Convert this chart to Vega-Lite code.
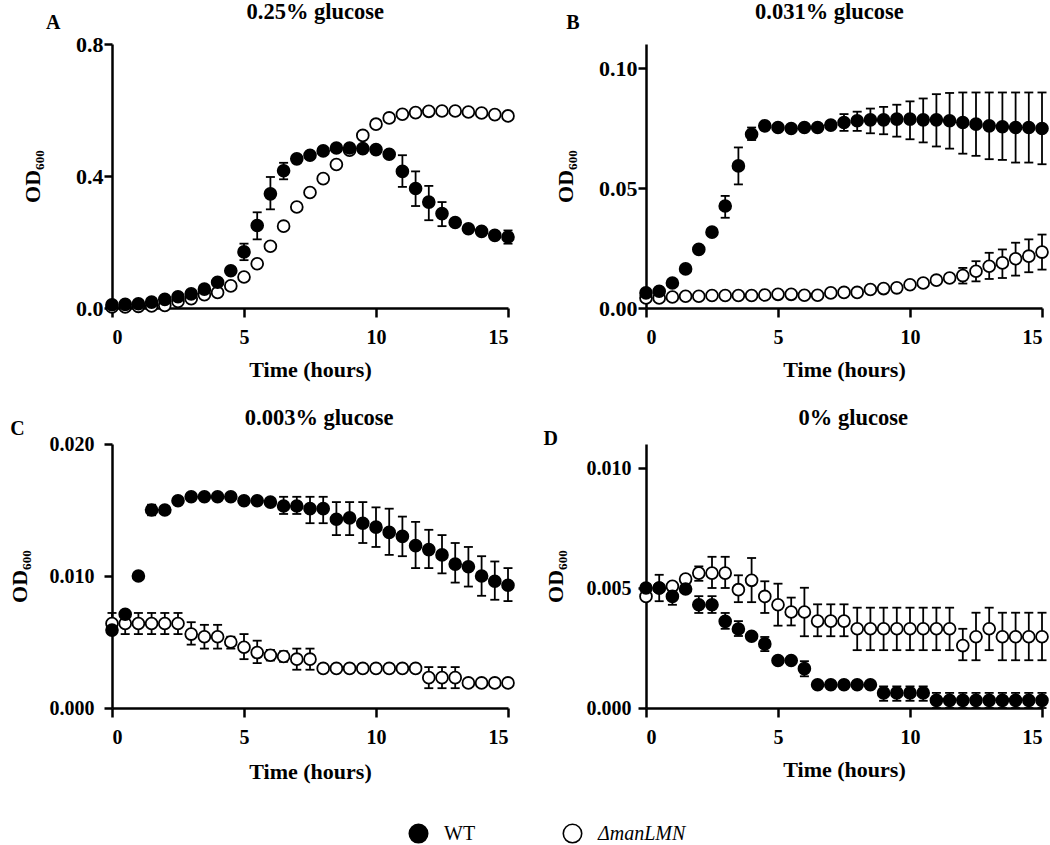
{
"$schema":"https://vega.github.io/schema/vega-lite/v6.json",
"padding":{"left":8,"top":0,"right":5,"bottom":0},
"config":{"view":{"stroke":null},"font":"Liberation Serif",
"axis":{"grid":false,"domainColor":"black","domainWidth":2.5,"tickColor":"black","tickWidth":2.5,"labelFont":"Liberation Serif","labelFontWeight":"bold","labelFontSize":20,"labelColor":"black","titleFont":"Liberation Serif","titleFontWeight":"bold","titleFontSize":22,"titleColor":"black"},
"axisX":{"tickSize":9,"labelPadding":26,"labelBaseline":"alphabetic","labelAngle":0,"titleBaseline":"alphabetic","minExtent":30,"maxExtent":30,"titlePadding":38},
"axisY":{"tickSize":8,"titleBaseline":"alphabetic","minExtent":40,"maxExtent":40},
"legend":{"labelFont":"Liberation Serif","labelFontStyle":{"expr":"datum.value === 'ΔmanLMN' ? 'italic' : 'normal'"}},
"text":{"font":"Liberation Serif","fontWeight":"bold","color":"black","align":"center","baseline":"alphabetic"}},
"datasets":{"growth":[
{"p":"A","s":"ΔmanLMN","t":0,"v":0.003},{"p":"A","s":"ΔmanLMN","t":0.5,"v":0.003},{"p":"A","s":"ΔmanLMN","t":1,"v":0.005},{"p":"A","s":"ΔmanLMN","t":1.5,"v":0.006},{"p":"A","s":"ΔmanLMN","t":2,"v":0.008},{"p":"A","s":"ΔmanLMN","t":2.5,"v":0.02},{"p":"A","s":"ΔmanLMN","t":3,"v":0.028},{"p":"A","s":"ΔmanLMN","t":3.5,"v":0.04},{"p":"A","s":"ΔmanLMN","t":4,"v":0.047},{"p":"A","s":"ΔmanLMN","t":4.5,"v":0.067},{"p":"A","s":"ΔmanLMN","t":5,"v":0.094},{"p":"A","s":"ΔmanLMN","t":5.5,"v":0.134},{"p":"A","s":"ΔmanLMN","t":6,"v":0.187},{"p":"A","s":"ΔmanLMN","t":6.5,"v":0.248},{"p":"A","s":"ΔmanLMN","t":7,"v":0.306},{"p":"A","s":"ΔmanLMN","t":7.5,"v":0.35},{"p":"A","s":"ΔmanLMN","t":8,"v":0.392},{"p":"A","s":"ΔmanLMN","t":8.5,"v":0.435},{"p":"A","s":"ΔmanLMN","t":9,"v":0.478},{"p":"A","s":"ΔmanLMN","t":9.5,"v":0.523},{"p":"A","s":"ΔmanLMN","t":10,"v":0.557},{"p":"A","s":"ΔmanLMN","t":10.5,"v":0.576},{"p":"A","s":"ΔmanLMN","t":11,"v":0.587},{"p":"A","s":"ΔmanLMN","t":11.5,"v":0.592},{"p":"A","s":"ΔmanLMN","t":12,"v":0.596},{"p":"A","s":"ΔmanLMN","t":12.5,"v":0.597},{"p":"A","s":"ΔmanLMN","t":13,"v":0.597},{"p":"A","s":"ΔmanLMN","t":13.5,"v":0.594},{"p":"A","s":"ΔmanLMN","t":14,"v":0.591},{"p":"A","s":"ΔmanLMN","t":14.5,"v":0.586},{"p":"A","s":"ΔmanLMN","t":15,"v":0.582},
{"p":"B","s":"ΔmanLMN","t":0,"v":0.0042},{"p":"B","s":"ΔmanLMN","t":0.5,"v":0.0042},{"p":"B","s":"ΔmanLMN","t":1,"v":0.0046},{"p":"B","s":"ΔmanLMN","t":1.5,"v":0.0049},{"p":"B","s":"ΔmanLMN","t":2,"v":0.0049},{"p":"B","s":"ΔmanLMN","t":2.5,"v":0.0052},{"p":"B","s":"ΔmanLMN","t":3,"v":0.0052},{"p":"B","s":"ΔmanLMN","t":3.5,"v":0.0052},{"p":"B","s":"ΔmanLMN","t":4,"v":0.0052},{"p":"B","s":"ΔmanLMN","t":4.5,"v":0.0054},{"p":"B","s":"ΔmanLMN","t":5,"v":0.0057},{"p":"B","s":"ΔmanLMN","t":5.5,"v":0.0057},{"p":"B","s":"ΔmanLMN","t":6,"v":0.0053},{"p":"B","s":"ΔmanLMN","t":6.5,"v":0.0053},{"p":"B","s":"ΔmanLMN","t":7,"v":0.0063},{"p":"B","s":"ΔmanLMN","t":7.5,"v":0.0065},{"p":"B","s":"ΔmanLMN","t":8,"v":0.0065},{"p":"B","s":"ΔmanLMN","t":8.5,"v":0.0077},{"p":"B","s":"ΔmanLMN","t":9,"v":0.0081},{"p":"B","s":"ΔmanLMN","t":9.5,"v":0.0084},{"p":"B","s":"ΔmanLMN","t":10,"v":0.0097},{"p":"B","s":"ΔmanLMN","t":10.5,"v":0.0104},{"p":"B","s":"ΔmanLMN","t":11,"v":0.0116},{"p":"B","s":"ΔmanLMN","t":11.5,"v":0.0125},{"p":"B","s":"ΔmanLMN","t":12,"v":0.0135,"lo":0.0102,"hi":0.0167},{"p":"B","s":"ΔmanLMN","t":12.5,"v":0.0153,"lo":0.0111,"hi":0.0195},{"p":"B","s":"ΔmanLMN","t":13,"v":0.0174,"lo":0.0121,"hi":0.023},{"p":"B","s":"ΔmanLMN","t":13.5,"v":0.0188,"lo":0.0125,"hi":0.0244},{"p":"B","s":"ΔmanLMN","t":14,"v":0.0205,"lo":0.0135,"hi":0.0272},{"p":"B","s":"ΔmanLMN","t":14.5,"v":0.0216,"lo":0.0149,"hi":0.0286},{"p":"B","s":"ΔmanLMN","t":15,"v":0.0233,"lo":0.016,"hi":0.0306},
{"p":"C","s":"ΔmanLMN","t":0,"v":0.0064,"lo":0.0056,"hi":0.0072},{"p":"C","s":"ΔmanLMN","t":0.5,"v":0.0064,"lo":0.0056,"hi":0.0072},{"p":"C","s":"ΔmanLMN","t":1,"v":0.0064,"lo":0.0056,"hi":0.0072},{"p":"C","s":"ΔmanLMN","t":1.5,"v":0.0064,"lo":0.0056,"hi":0.0072},{"p":"C","s":"ΔmanLMN","t":2,"v":0.0064,"lo":0.0056,"hi":0.0072},{"p":"C","s":"ΔmanLMN","t":2.5,"v":0.0064,"lo":0.0056,"hi":0.0072},{"p":"C","s":"ΔmanLMN","t":3,"v":0.0056,"lo":0.0048,"hi":0.0065},{"p":"C","s":"ΔmanLMN","t":3.5,"v":0.0054,"lo":0.0045,"hi":0.0063},{"p":"C","s":"ΔmanLMN","t":4,"v":0.0054,"lo":0.0045,"hi":0.0063},{"p":"C","s":"ΔmanLMN","t":4.5,"v":0.005,"lo":0.0045,"hi":0.0054},{"p":"C","s":"ΔmanLMN","t":5,"v":0.0046,"lo":0.0037,"hi":0.0056},{"p":"C","s":"ΔmanLMN","t":5.5,"v":0.0042,"lo":0.0034,"hi":0.0051},{"p":"C","s":"ΔmanLMN","t":6,"v":0.004,"lo":0.0036,"hi":0.0044},{"p":"C","s":"ΔmanLMN","t":6.5,"v":0.0039,"lo":0.0035,"hi":0.0043},{"p":"C","s":"ΔmanLMN","t":7,"v":0.0037,"lo":0.0029,"hi":0.0045},{"p":"C","s":"ΔmanLMN","t":7.5,"v":0.0037,"lo":0.0029,"hi":0.0045},{"p":"C","s":"ΔmanLMN","t":8,"v":0.003,"lo":0.0027,"hi":0.0033},{"p":"C","s":"ΔmanLMN","t":8.5,"v":0.003,"lo":0.0027,"hi":0.0033},{"p":"C","s":"ΔmanLMN","t":9,"v":0.003,"lo":0.0027,"hi":0.0033},{"p":"C","s":"ΔmanLMN","t":9.5,"v":0.003,"lo":0.0027,"hi":0.0033},{"p":"C","s":"ΔmanLMN","t":10,"v":0.003,"lo":0.0027,"hi":0.0033},{"p":"C","s":"ΔmanLMN","t":10.5,"v":0.003,"lo":0.0027,"hi":0.0033},{"p":"C","s":"ΔmanLMN","t":11,"v":0.003,"lo":0.0027,"hi":0.0033},{"p":"C","s":"ΔmanLMN","t":11.5,"v":0.003,"lo":0.0027,"hi":0.0033},{"p":"C","s":"ΔmanLMN","t":12,"v":0.0023,"lo":0.0015,"hi":0.0031},{"p":"C","s":"ΔmanLMN","t":12.5,"v":0.0023,"lo":0.0015,"hi":0.0031},{"p":"C","s":"ΔmanLMN","t":13,"v":0.0023,"lo":0.0015,"hi":0.0031},{"p":"C","s":"ΔmanLMN","t":13.5,"v":0.0019},{"p":"C","s":"ΔmanLMN","t":14,"v":0.0019},{"p":"C","s":"ΔmanLMN","t":14.5,"v":0.0019},{"p":"C","s":"ΔmanLMN","t":15,"v":0.0019},
{"p":"D","s":"ΔmanLMN","t":0,"v":0.00465},{"p":"D","s":"ΔmanLMN","t":0.5,"v":0.005},{"p":"D","s":"ΔmanLMN","t":1,"v":0.00507},{"p":"D","s":"ΔmanLMN","t":1.5,"v":0.00537},{"p":"D","s":"ΔmanLMN","t":2,"v":0.00562,"lo":0.0053,"hi":0.0059},{"p":"D","s":"ΔmanLMN","t":2.5,"v":0.00562,"lo":0.005,"hi":0.0063},{"p":"D","s":"ΔmanLMN","t":3,"v":0.00562,"lo":0.005,"hi":0.0063},{"p":"D","s":"ΔmanLMN","t":3.5,"v":0.00493,"lo":0.00441,"hi":0.00553},{"p":"D","s":"ΔmanLMN","t":4,"v":0.00532,"lo":0.00441,"hi":0.00625},{"p":"D","s":"ΔmanLMN","t":4.5,"v":0.00465,"lo":0.00396,"hi":0.00528},{"p":"D","s":"ΔmanLMN","t":5,"v":0.0043,"lo":0.00343,"hi":0.00518},{"p":"D","s":"ΔmanLMN","t":5.5,"v":0.004,"lo":0.00344,"hi":0.0046},{"p":"D","s":"ΔmanLMN","t":6,"v":0.004,"lo":0.00299,"hi":0.00501},{"p":"D","s":"ΔmanLMN","t":6.5,"v":0.00362,"lo":0.00299,"hi":0.00432},{"p":"D","s":"ΔmanLMN","t":7,"v":0.00362,"lo":0.00299,"hi":0.00432},{"p":"D","s":"ΔmanLMN","t":7.5,"v":0.00362,"lo":0.00299,"hi":0.00432},{"p":"D","s":"ΔmanLMN","t":8,"v":0.0033,"lo":0.00241,"hi":0.00418},{"p":"D","s":"ΔmanLMN","t":8.5,"v":0.0033,"lo":0.00241,"hi":0.00418},{"p":"D","s":"ΔmanLMN","t":9,"v":0.0033,"lo":0.00241,"hi":0.00418},{"p":"D","s":"ΔmanLMN","t":9.5,"v":0.0033,"lo":0.00241,"hi":0.00418},{"p":"D","s":"ΔmanLMN","t":10,"v":0.0033,"lo":0.00241,"hi":0.00418},{"p":"D","s":"ΔmanLMN","t":10.5,"v":0.0033,"lo":0.00241,"hi":0.00418},{"p":"D","s":"ΔmanLMN","t":11,"v":0.0033,"lo":0.00241,"hi":0.00418},{"p":"D","s":"ΔmanLMN","t":11.5,"v":0.0033,"lo":0.00241,"hi":0.00418},{"p":"D","s":"ΔmanLMN","t":12,"v":0.0026,"lo":0.00199,"hi":0.0033},{"p":"D","s":"ΔmanLMN","t":12.5,"v":0.00297,"lo":0.00199,"hi":0.00397},{"p":"D","s":"ΔmanLMN","t":13,"v":0.0033,"lo":0.00241,"hi":0.00418},{"p":"D","s":"ΔmanLMN","t":13.5,"v":0.00297,"lo":0.00199,"hi":0.00397},{"p":"D","s":"ΔmanLMN","t":14,"v":0.00297,"lo":0.00199,"hi":0.00397},{"p":"D","s":"ΔmanLMN","t":14.5,"v":0.00297,"lo":0.00199,"hi":0.00397},{"p":"D","s":"ΔmanLMN","t":15,"v":0.00297,"lo":0.00199,"hi":0.00397},
{"p":"A","s":"WT","t":0,"v":0.01},{"p":"A","s":"WT","t":0.5,"v":0.011},{"p":"A","s":"WT","t":1,"v":0.013},{"p":"A","s":"WT","t":1.5,"v":0.018},{"p":"A","s":"WT","t":2,"v":0.026},{"p":"A","s":"WT","t":2.5,"v":0.034},{"p":"A","s":"WT","t":3,"v":0.043},{"p":"A","s":"WT","t":3.5,"v":0.057},{"p":"A","s":"WT","t":4,"v":0.078},{"p":"A","s":"WT","t":4.5,"v":0.113,"lo":0.105,"hi":0.121},{"p":"A","s":"WT","t":5,"v":0.17,"lo":0.145,"hi":0.195},{"p":"A","s":"WT","t":5.5,"v":0.25,"lo":0.208,"hi":0.29},{"p":"A","s":"WT","t":6,"v":0.346,"lo":0.299,"hi":0.397},{"p":"A","s":"WT","t":6.5,"v":0.416,"lo":0.39,"hi":0.44},{"p":"A","s":"WT","t":7,"v":0.452},{"p":"A","s":"WT","t":7.5,"v":0.463},{"p":"A","s":"WT","t":8,"v":0.476},{"p":"A","s":"WT","t":8.5,"v":0.485},{"p":"A","s":"WT","t":9,"v":0.485},{"p":"A","s":"WT","t":9.5,"v":0.483},{"p":"A","s":"WT","t":10,"v":0.48},{"p":"A","s":"WT","t":10.5,"v":0.466},{"p":"A","s":"WT","t":11,"v":0.414,"lo":0.367,"hi":0.463},{"p":"A","s":"WT","t":11.5,"v":0.362,"lo":0.309,"hi":0.414},{"p":"A","s":"WT","t":12,"v":0.321,"lo":0.266,"hi":0.37},{"p":"A","s":"WT","t":12.5,"v":0.286,"lo":0.248,"hi":0.321},{"p":"A","s":"WT","t":13,"v":0.259},{"p":"A","s":"WT","t":13.5,"v":0.24},{"p":"A","s":"WT","t":14,"v":0.232},{"p":"A","s":"WT","t":14.5,"v":0.22,"lo":0.21,"hi":0.23},{"p":"A","s":"WT","t":15,"v":0.215,"lo":0.195,"hi":0.235},
{"p":"B","s":"WT","t":0,"v":0.0063},{"p":"B","s":"WT","t":0.5,"v":0.007},{"p":"B","s":"WT","t":1,"v":0.0104},{"p":"B","s":"WT","t":1.5,"v":0.0163},{"p":"B","s":"WT","t":2,"v":0.0244},{"p":"B","s":"WT","t":2.5,"v":0.0316},{"p":"B","s":"WT","t":3,"v":0.0425,"lo":0.0376,"hi":0.0467},{"p":"B","s":"WT","t":3.5,"v":0.0592,"lo":0.0515,"hi":0.0669},{"p":"B","s":"WT","t":4,"v":0.0724,"lo":0.07,"hi":0.0752},{"p":"B","s":"WT","t":4.5,"v":0.0759},{"p":"B","s":"WT","t":5,"v":0.0752},{"p":"B","s":"WT","t":5.5,"v":0.0748},{"p":"B","s":"WT","t":6,"v":0.0752},{"p":"B","s":"WT","t":6.5,"v":0.0752},{"p":"B","s":"WT","t":7,"v":0.0762},{"p":"B","s":"WT","t":7.5,"v":0.0773,"lo":0.0738,"hi":0.0808},{"p":"B","s":"WT","t":8,"v":0.078,"lo":0.0738,"hi":0.0818},{"p":"B","s":"WT","t":8.5,"v":0.0784,"lo":0.0728,"hi":0.0831},{"p":"B","s":"WT","t":9,"v":0.0784,"lo":0.0724,"hi":0.0838},{"p":"B","s":"WT","t":9.5,"v":0.0787,"lo":0.0714,"hi":0.0847},{"p":"B","s":"WT","t":10,"v":0.0787,"lo":0.0703,"hi":0.0861},{"p":"B","s":"WT","t":10.5,"v":0.0784,"lo":0.069,"hi":0.0873},{"p":"B","s":"WT","t":11,"v":0.0784,"lo":0.0673,"hi":0.0891},{"p":"B","s":"WT","t":11.5,"v":0.078,"lo":0.0664,"hi":0.0896},{"p":"B","s":"WT","t":12,"v":0.0773,"lo":0.0643,"hi":0.0898},{"p":"B","s":"WT","t":12.5,"v":0.0766,"lo":0.0634,"hi":0.0898},{"p":"B","s":"WT","t":13,"v":0.0759,"lo":0.062,"hi":0.0898},{"p":"B","s":"WT","t":13.5,"v":0.0755,"lo":0.0617,"hi":0.0898},{"p":"B","s":"WT","t":14,"v":0.0752,"lo":0.0606,"hi":0.0898},{"p":"B","s":"WT","t":14.5,"v":0.0752,"lo":0.0606,"hi":0.0898},{"p":"B","s":"WT","t":15,"v":0.0748,"lo":0.0599,"hi":0.0898},
{"p":"C","s":"WT","t":0,"v":0.0059},{"p":"C","s":"WT","t":0.5,"v":0.0071},{"p":"C","s":"WT","t":1,"v":0.01},{"p":"C","s":"WT","t":1.5,"v":0.015,"lo":0.0146,"hi":0.0154},{"p":"C","s":"WT","t":2,"v":0.015},{"p":"C","s":"WT","t":2.5,"v":0.0157},{"p":"C","s":"WT","t":3,"v":0.016},{"p":"C","s":"WT","t":3.5,"v":0.016},{"p":"C","s":"WT","t":4,"v":0.016},{"p":"C","s":"WT","t":4.5,"v":0.016},{"p":"C","s":"WT","t":5,"v":0.0157},{"p":"C","s":"WT","t":5.5,"v":0.0157},{"p":"C","s":"WT","t":6,"v":0.0156},{"p":"C","s":"WT","t":6.5,"v":0.0153,"lo":0.0147,"hi":0.016},{"p":"C","s":"WT","t":7,"v":0.0153,"lo":0.0147,"hi":0.016},{"p":"C","s":"WT","t":7.5,"v":0.0151,"lo":0.014,"hi":0.016},{"p":"C","s":"WT","t":8,"v":0.0151,"lo":0.014,"hi":0.016},{"p":"C","s":"WT","t":8.5,"v":0.0143,"lo":0.0131,"hi":0.0156},{"p":"C","s":"WT","t":9,"v":0.0144,"lo":0.0131,"hi":0.0156},{"p":"C","s":"WT","t":9.5,"v":0.014,"lo":0.0125,"hi":0.0156},{"p":"C","s":"WT","t":10,"v":0.0137,"lo":0.0122,"hi":0.0152},{"p":"C","s":"WT","t":10.5,"v":0.0133,"lo":0.0116,"hi":0.0151},{"p":"C","s":"WT","t":11,"v":0.013,"lo":0.0115,"hi":0.0145},{"p":"C","s":"WT","t":11.5,"v":0.0123,"lo":0.0106,"hi":0.0141},{"p":"C","s":"WT","t":12,"v":0.012,"lo":0.0106,"hi":0.0135},{"p":"C","s":"WT","t":12.5,"v":0.0116,"lo":0.0102,"hi":0.0131},{"p":"C","s":"WT","t":13,"v":0.0109,"lo":0.0095,"hi":0.0125},{"p":"C","s":"WT","t":13.5,"v":0.0107,"lo":0.0092,"hi":0.0122},{"p":"C","s":"WT","t":14,"v":0.01,"lo":0.0085,"hi":0.0115},{"p":"C","s":"WT","t":14.5,"v":0.0096,"lo":0.0082,"hi":0.0111},{"p":"C","s":"WT","t":15,"v":0.0093,"lo":0.0081,"hi":0.0106},
{"p":"D","s":"WT","t":0,"v":0.005},{"p":"D","s":"WT","t":0.5,"v":0.005,"lo":0.00445,"hi":0.00555},{"p":"D","s":"WT","t":1,"v":0.00465,"lo":0.0043,"hi":0.0049},{"p":"D","s":"WT","t":1.5,"v":0.00496},{"p":"D","s":"WT","t":2,"v":0.0043,"lo":0.00396,"hi":0.00466},{"p":"D","s":"WT","t":2.5,"v":0.0043,"lo":0.00396,"hi":0.00466},{"p":"D","s":"WT","t":3,"v":0.00361,"lo":0.0033,"hi":0.00396},{"p":"D","s":"WT","t":3.5,"v":0.00329,"lo":0.003,"hi":0.00362},{"p":"D","s":"WT","t":4,"v":0.00299},{"p":"D","s":"WT","t":4.5,"v":0.00267,"lo":0.00237,"hi":0.00296},{"p":"D","s":"WT","t":5,"v":0.00198},{"p":"D","s":"WT","t":5.5,"v":0.00198},{"p":"D","s":"WT","t":6,"v":0.00164,"lo":0.00132,"hi":0.00195},{"p":"D","s":"WT","t":6.5,"v":0.00097},{"p":"D","s":"WT","t":7,"v":0.00097},{"p":"D","s":"WT","t":7.5,"v":0.00097},{"p":"D","s":"WT","t":8,"v":0.00097},{"p":"D","s":"WT","t":8.5,"v":0.00097},{"p":"D","s":"WT","t":9,"v":0.00063,"lo":0.0003,"hi":0.0009},{"p":"D","s":"WT","t":9.5,"v":0.00063,"lo":0.0003,"hi":0.0009},{"p":"D","s":"WT","t":10,"v":0.00063,"lo":0.0003,"hi":0.0009},{"p":"D","s":"WT","t":10.5,"v":0.00063,"lo":0.0003,"hi":0.0009},{"p":"D","s":"WT","t":11,"v":0.00032,"lo":0,"hi":0.00063},{"p":"D","s":"WT","t":11.5,"v":0.00032,"lo":0,"hi":0.00063},{"p":"D","s":"WT","t":12,"v":0.00032,"lo":0,"hi":0.00063},{"p":"D","s":"WT","t":12.5,"v":0.00032,"lo":0,"hi":0.00063},{"p":"D","s":"WT","t":13,"v":0.00032,"lo":0,"hi":0.00063},{"p":"D","s":"WT","t":13.5,"v":0.00032,"lo":0,"hi":0.00063},{"p":"D","s":"WT","t":14,"v":0.00032,"lo":0,"hi":0.00063},{"p":"D","s":"WT","t":14.5,"v":0.00032,"lo":0,"hi":0.00063},{"p":"D","s":"WT","t":15,"v":0.00032,"lo":0,"hi":0.00063}
]},
"columns":2,
"bounds":"flush",
"spacing":{"row":136,"column":138},
"resolve":{"scale":{"x":"independent","y":"independent","fill":"shared"},"legend":{"fill":"shared"}},
"concat":[
{"width":396,"height":264,
"layer":[
{"data":{"name":"growth"},"transform":[{"filter":"datum.p == 'A' && datum.lo != null"}],"mark":{"type":"rule","color":"black","strokeWidth":1.8},"encoding":{"x":{"field":"t","type":"quantitative","scale":{"domain":[0,15],"nice":false,"zero":false},"axis":{"values":[0,5,10,15],"title":"Time (hours)"}},"y":{"field":"lo","type":"quantitative","scale":{"domain":[0,0.8],"nice":false,"zero":false},"axis":{"values":[0,0.4,0.8],"format":".1f","labelFontSize":22,"labelPadding":1,"title":"OD₆₀₀","titlePadding":33}},"y2":{"field":"hi"}}},
{"data":{"name":"growth"},"transform":[{"filter":"datum.p == 'A' && datum.lo != null"}],"mark":{"type":"tick","orient":"horizontal","color":"black","thickness":1.8,"size":9,"opacity":1},"encoding":{"x":{"field":"t","type":"quantitative","scale":{"domain":[0,15],"nice":false,"zero":false},"axis":{"values":[0,5,10,15],"title":"Time (hours)"}},"y":{"field":"lo","type":"quantitative","scale":{"domain":[0,0.8],"nice":false,"zero":false},"axis":{"values":[0,0.4,0.8],"format":".1f","labelFontSize":22,"labelPadding":1,"title":"OD₆₀₀","titlePadding":33}}}},
{"data":{"name":"growth"},"transform":[{"filter":"datum.p == 'A' && datum.lo != null"}],"mark":{"type":"tick","orient":"horizontal","color":"black","thickness":1.8,"size":9,"opacity":1},"encoding":{"x":{"field":"t","type":"quantitative","scale":{"domain":[0,15],"nice":false,"zero":false},"axis":{"values":[0,5,10,15],"title":"Time (hours)"}},"y":{"field":"hi","type":"quantitative","scale":{"domain":[0,0.8],"nice":false,"zero":false},"axis":{"values":[0,0.4,0.8],"format":".1f","labelFontSize":22,"labelPadding":1,"title":"OD₆₀₀","titlePadding":33}}}},
{"data":{"name":"growth"},"transform":[{"filter":"datum.p == 'A'"}],"mark":{"type":"point","shape":"circle","filled":true,"stroke":"black","strokeWidth":1.8,"size":140,"opacity":1},"encoding":{"x":{"field":"t","type":"quantitative","scale":{"domain":[0,15],"nice":false,"zero":false},"axis":{"values":[0,5,10,15],"title":"Time (hours)"}},"y":{"field":"v","type":"quantitative","scale":{"domain":[0,0.8],"nice":false,"zero":false},"axis":{"values":[0,0.4,0.8],"format":".1f","labelFontSize":22,"labelPadding":1,"title":"OD₆₀₀","titlePadding":33}},"fill":{"field":"s","type":"nominal","scale":{"domain":["WT","ΔmanLMN"],"range":["black","white"]},"legend":{"orient":"none","legendX":296,"legendY":779,"direction":"horizontal","title":null,"symbolType":"circle","symbolSize":340,"symbolStrokeColor":"black","symbolStrokeWidth":1.6,"labelFont":"Liberation Serif","labelFontSize":20,"labelFontWeight":"normal","labelColor":"black","labelOffset":15,"columnPadding":84,"padding":0}}}},
{"data":{"values":[{"lab":"A","x":-2.23,"y":0.846,"f":20},{"lab":"0.25% glucose","x":7.7,"y":0.8758,"f":22.5}]},"mark":{"type":"text"},"encoding":{"x":{"field":"x","type":"quantitative","scale":{"domain":[0,15],"nice":false,"zero":false},"axis":{"values":[0,5,10,15],"title":"Time (hours)"}},"y":{"field":"y","type":"quantitative","scale":{"domain":[0,0.8],"nice":false,"zero":false},"axis":{"values":[0,0.4,0.8],"format":".1f","labelFontSize":22,"labelPadding":1,"title":"OD₆₀₀","titlePadding":33}},"text":{"field":"lab"},"size":{"field":"f","type":"quantitative","scale":null}}}
]},
{"width":396,"height":264,
"layer":[
{"data":{"name":"growth"},"transform":[{"filter":"datum.p == 'B' && datum.lo != null"}],"mark":{"type":"rule","color":"black","strokeWidth":1.8},"encoding":{"x":{"field":"t","type":"quantitative","scale":{"domain":[0,15],"nice":false,"zero":false},"axis":{"values":[0,5,10,15],"title":"Time (hours)"}},"y":{"field":"lo","type":"quantitative","scale":{"domain":[0,0.11],"nice":false,"zero":false},"axis":{"values":[0,0.05,0.1],"format":".2f","labelFontSize":22,"labelPadding":1,"title":"OD₆₀₀","titlePadding":34}},"y2":{"field":"hi"}}},
{"data":{"name":"growth"},"transform":[{"filter":"datum.p == 'B' && datum.lo != null"}],"mark":{"type":"tick","orient":"horizontal","color":"black","thickness":1.8,"size":9,"opacity":1},"encoding":{"x":{"field":"t","type":"quantitative","scale":{"domain":[0,15],"nice":false,"zero":false},"axis":{"values":[0,5,10,15],"title":"Time (hours)"}},"y":{"field":"lo","type":"quantitative","scale":{"domain":[0,0.11],"nice":false,"zero":false},"axis":{"values":[0,0.05,0.1],"format":".2f","labelFontSize":22,"labelPadding":1,"title":"OD₆₀₀","titlePadding":34}}}},
{"data":{"name":"growth"},"transform":[{"filter":"datum.p == 'B' && datum.lo != null"}],"mark":{"type":"tick","orient":"horizontal","color":"black","thickness":1.8,"size":9,"opacity":1},"encoding":{"x":{"field":"t","type":"quantitative","scale":{"domain":[0,15],"nice":false,"zero":false},"axis":{"values":[0,5,10,15],"title":"Time (hours)"}},"y":{"field":"hi","type":"quantitative","scale":{"domain":[0,0.11],"nice":false,"zero":false},"axis":{"values":[0,0.05,0.1],"format":".2f","labelFontSize":22,"labelPadding":1,"title":"OD₆₀₀","titlePadding":34}}}},
{"data":{"name":"growth"},"transform":[{"filter":"datum.p == 'B'"}],"mark":{"type":"point","shape":"circle","filled":true,"stroke":"black","strokeWidth":1.8,"size":140,"opacity":1},"encoding":{"x":{"field":"t","type":"quantitative","scale":{"domain":[0,15],"nice":false,"zero":false},"axis":{"values":[0,5,10,15],"title":"Time (hours)"}},"y":{"field":"v","type":"quantitative","scale":{"domain":[0,0.11],"nice":false,"zero":false},"axis":{"values":[0,0.05,0.1],"format":".2f","labelFontSize":22,"labelPadding":1,"title":"OD₆₀₀","titlePadding":34}},"fill":{"field":"s","type":"nominal","scale":{"domain":["WT","ΔmanLMN"],"range":["black","white"]},"legend":{"orient":"none","legendX":296,"legendY":779,"direction":"horizontal","title":null,"symbolType":"circle","symbolSize":340,"symbolStrokeColor":"black","symbolStrokeWidth":1.6,"labelFont":"Liberation Serif","labelFontSize":20,"labelFontWeight":"normal","labelColor":"black","labelOffset":15,"columnPadding":84,"padding":0}}}},
{"data":{"values":[{"lab":"B","x":-2.77,"y":0.1164,"f":20},{"lab":"0.031% glucose","x":6.95,"y":0.1206,"f":22.5}]},"mark":{"type":"text"},"encoding":{"x":{"field":"x","type":"quantitative","scale":{"domain":[0,15],"nice":false,"zero":false},"axis":{"values":[0,5,10,15],"title":"Time (hours)"}},"y":{"field":"y","type":"quantitative","scale":{"domain":[0,0.11],"nice":false,"zero":false},"axis":{"values":[0,0.05,0.1],"format":".2f","labelFontSize":22,"labelPadding":1,"title":"OD₆₀₀","titlePadding":34}},"text":{"field":"lab"},"size":{"field":"f","type":"quantitative","scale":null}}}
]},
{"width":396,"height":264,
"layer":[
{"data":{"name":"growth"},"transform":[{"filter":"datum.p == 'C' && datum.lo != null"}],"mark":{"type":"rule","color":"black","strokeWidth":1.8},"encoding":{"x":{"field":"t","type":"quantitative","scale":{"domain":[0,15],"nice":false,"zero":false},"axis":{"values":[0,5,10,15],"title":"Time (hours)","titlePadding":40}},"y":{"field":"lo","type":"quantitative","scale":{"domain":[0,0.02],"nice":false,"zero":false},"axis":{"values":[0,0.01,0.02],"format":".3f","labelPadding":10,"title":"OD₆₀₀","titlePadding":46}},"y2":{"field":"hi"}}},
{"data":{"name":"growth"},"transform":[{"filter":"datum.p == 'C' && datum.lo != null"}],"mark":{"type":"tick","orient":"horizontal","color":"black","thickness":1.8,"size":9,"opacity":1},"encoding":{"x":{"field":"t","type":"quantitative","scale":{"domain":[0,15],"nice":false,"zero":false},"axis":{"values":[0,5,10,15],"title":"Time (hours)","titlePadding":40}},"y":{"field":"lo","type":"quantitative","scale":{"domain":[0,0.02],"nice":false,"zero":false},"axis":{"values":[0,0.01,0.02],"format":".3f","labelPadding":10,"title":"OD₆₀₀","titlePadding":46}}}},
{"data":{"name":"growth"},"transform":[{"filter":"datum.p == 'C' && datum.lo != null"}],"mark":{"type":"tick","orient":"horizontal","color":"black","thickness":1.8,"size":9,"opacity":1},"encoding":{"x":{"field":"t","type":"quantitative","scale":{"domain":[0,15],"nice":false,"zero":false},"axis":{"values":[0,5,10,15],"title":"Time (hours)","titlePadding":40}},"y":{"field":"hi","type":"quantitative","scale":{"domain":[0,0.02],"nice":false,"zero":false},"axis":{"values":[0,0.01,0.02],"format":".3f","labelPadding":10,"title":"OD₆₀₀","titlePadding":46}}}},
{"data":{"name":"growth"},"transform":[{"filter":"datum.p == 'C'"}],"mark":{"type":"point","shape":"circle","filled":true,"stroke":"black","strokeWidth":1.8,"size":140,"opacity":1},"encoding":{"x":{"field":"t","type":"quantitative","scale":{"domain":[0,15],"nice":false,"zero":false},"axis":{"values":[0,5,10,15],"title":"Time (hours)","titlePadding":40}},"y":{"field":"v","type":"quantitative","scale":{"domain":[0,0.02],"nice":false,"zero":false},"axis":{"values":[0,0.01,0.02],"format":".3f","labelPadding":10,"title":"OD₆₀₀","titlePadding":46}},"fill":{"field":"s","type":"nominal","scale":{"domain":["WT","ΔmanLMN"],"range":["black","white"]},"legend":{"orient":"none","legendX":296,"legendY":779,"direction":"horizontal","title":null,"symbolType":"circle","symbolSize":340,"symbolStrokeColor":"black","symbolStrokeWidth":1.6,"labelFont":"Liberation Serif","labelFontSize":20,"labelFontWeight":"normal","labelColor":"black","labelOffset":15,"columnPadding":84,"padding":0}}}},
{"data":{"values":[{"lab":"C","x":-3.58,"y":0.02066,"f":20},{"lab":"0.003% glucose","x":7.85,"y":0.02146,"f":22.5}]},"mark":{"type":"text"},"encoding":{"x":{"field":"x","type":"quantitative","scale":{"domain":[0,15],"nice":false,"zero":false},"axis":{"values":[0,5,10,15],"title":"Time (hours)","titlePadding":40}},"y":{"field":"y","type":"quantitative","scale":{"domain":[0,0.02],"nice":false,"zero":false},"axis":{"values":[0,0.01,0.02],"format":".3f","labelPadding":10,"title":"OD₆₀₀","titlePadding":46}},"text":{"field":"lab"},"size":{"field":"f","type":"quantitative","scale":null}}}
]},
{"width":396,"height":264,
"layer":[
{"data":{"name":"growth"},"transform":[{"filter":"datum.p == 'D' && datum.lo != null"}],"mark":{"type":"rule","color":"black","strokeWidth":1.8},"encoding":{"x":{"field":"t","type":"quantitative","scale":{"domain":[0,15],"nice":false,"zero":false},"axis":{"values":[0,5,10,15],"title":"Time (hours)"}},"y":{"field":"lo","type":"quantitative","scale":{"domain":[0,0.011],"nice":false,"zero":false},"axis":{"values":[0,0.005,0.01],"format":".3f","labelPadding":7,"title":"OD₆₀₀","titlePadding":44}},"y2":{"field":"hi"}}},
{"data":{"name":"growth"},"transform":[{"filter":"datum.p == 'D' && datum.lo != null"}],"mark":{"type":"tick","orient":"horizontal","color":"black","thickness":1.8,"size":9,"opacity":1},"encoding":{"x":{"field":"t","type":"quantitative","scale":{"domain":[0,15],"nice":false,"zero":false},"axis":{"values":[0,5,10,15],"title":"Time (hours)"}},"y":{"field":"lo","type":"quantitative","scale":{"domain":[0,0.011],"nice":false,"zero":false},"axis":{"values":[0,0.005,0.01],"format":".3f","labelPadding":7,"title":"OD₆₀₀","titlePadding":44}}}},
{"data":{"name":"growth"},"transform":[{"filter":"datum.p == 'D' && datum.lo != null"}],"mark":{"type":"tick","orient":"horizontal","color":"black","thickness":1.8,"size":9,"opacity":1},"encoding":{"x":{"field":"t","type":"quantitative","scale":{"domain":[0,15],"nice":false,"zero":false},"axis":{"values":[0,5,10,15],"title":"Time (hours)"}},"y":{"field":"hi","type":"quantitative","scale":{"domain":[0,0.011],"nice":false,"zero":false},"axis":{"values":[0,0.005,0.01],"format":".3f","labelPadding":7,"title":"OD₆₀₀","titlePadding":44}}}},
{"data":{"name":"growth"},"transform":[{"filter":"datum.p == 'D'"}],"mark":{"type":"point","shape":"circle","filled":true,"stroke":"black","strokeWidth":1.8,"size":140,"opacity":1},"encoding":{"x":{"field":"t","type":"quantitative","scale":{"domain":[0,15],"nice":false,"zero":false},"axis":{"values":[0,5,10,15],"title":"Time (hours)"}},"y":{"field":"v","type":"quantitative","scale":{"domain":[0,0.011],"nice":false,"zero":false},"axis":{"values":[0,0.005,0.01],"format":".3f","labelPadding":7,"title":"OD₆₀₀","titlePadding":44}},"fill":{"field":"s","type":"nominal","scale":{"domain":["WT","ΔmanLMN"],"range":["black","white"]},"legend":{"orient":"none","legendX":296,"legendY":779,"direction":"horizontal","title":null,"symbolType":"circle","symbolSize":340,"symbolStrokeColor":"black","symbolStrokeWidth":1.6,"labelFont":"Liberation Serif","labelFontSize":20,"labelFontWeight":"normal","labelColor":"black","labelOffset":15,"columnPadding":84,"padding":0}}}},
{"data":{"values":[{"lab":"D","x":-3.61,"y":0.01097,"f":20},{"lab":"0% glucose","x":7.85,"y":0.0118,"f":22.5}]},"mark":{"type":"text"},"encoding":{"x":{"field":"x","type":"quantitative","scale":{"domain":[0,15],"nice":false,"zero":false},"axis":{"values":[0,5,10,15],"title":"Time (hours)"}},"y":{"field":"y","type":"quantitative","scale":{"domain":[0,0.011],"nice":false,"zero":false},"axis":{"values":[0,0.005,0.01],"format":".3f","labelPadding":7,"title":"OD₆₀₀","titlePadding":44}},"text":{"field":"lab"},"size":{"field":"f","type":"quantitative","scale":null}}}
]}
]
}
